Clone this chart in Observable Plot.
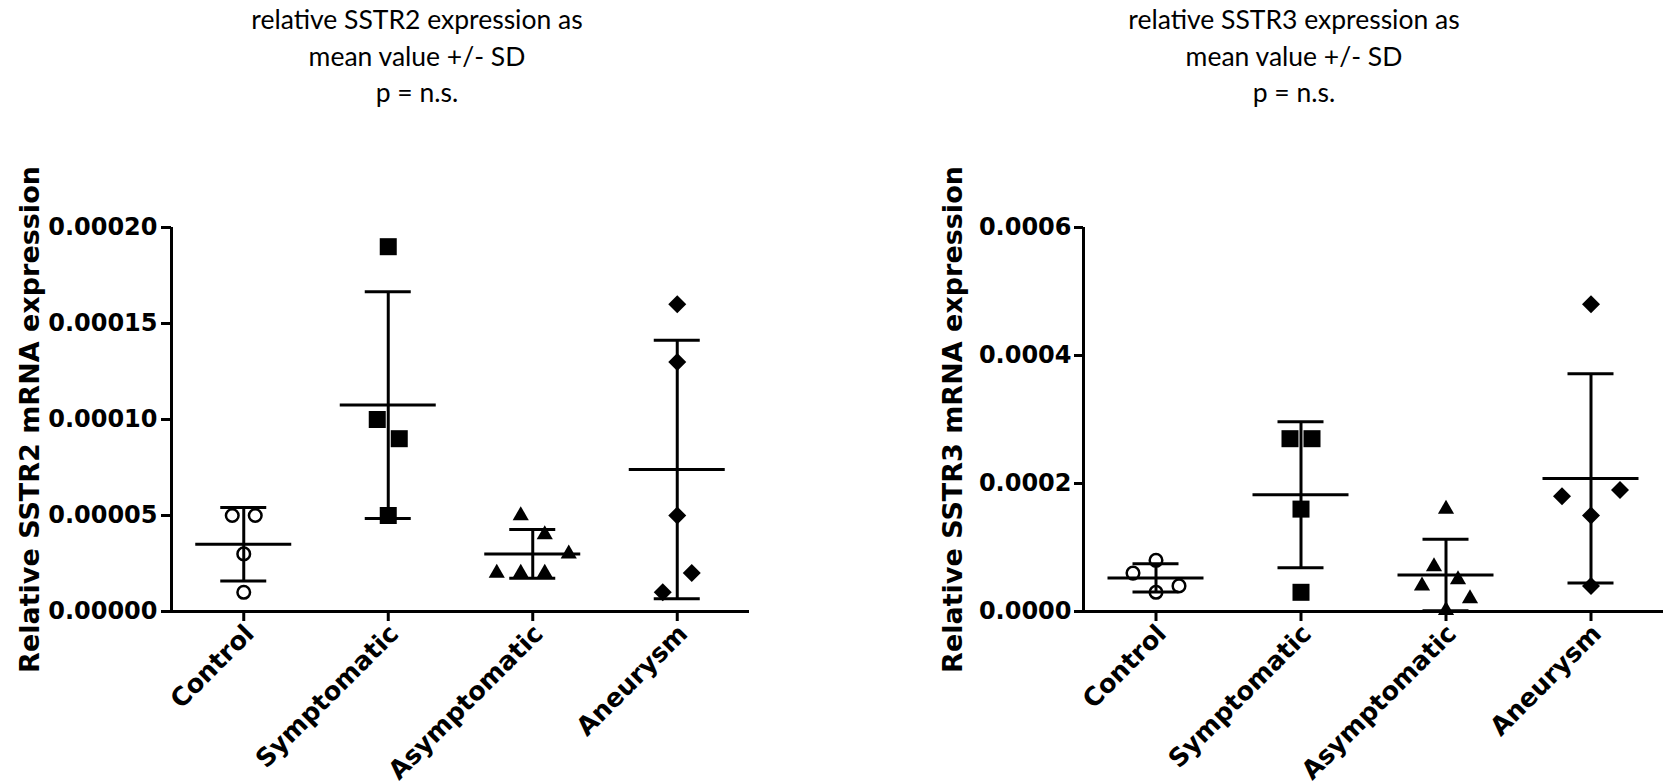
<!DOCTYPE html>
<html><head><meta charset="utf-8">
<script src="https://cdn.jsdelivr.net/npm/d3@7"></script>
<script src="https://cdn.jsdelivr.net/npm/@observablehq/plot@0.6"></script>
<style>
body{margin:0;background:#fff;}
#root{position:relative;width:1665px;height:784px;overflow:hidden;background:#fff;}
.title{position:absolute;top:1px;width:560px;text-align:center;font-family:Lato,"Open Sans",sans-serif;font-size:26.5px;line-height:36.5px;color:#000;}
.panel{position:absolute;top:120px;}
</style></head><body><div id="root"></div>
<script>
// ---- data ----
const categories = ["Control", "Symptomatic", "Asymptomatic", "Aneurysm"];

// SSTR2 panel
const sstr2Title = ["relative SSTR2 expression as", "mean value +/- SD", "p = n.s."];
const sstr2Label = "Relative SSTR2 mRNA expression";
const sstr2Control = [0.00005, 0.00005, 0.00003, 0.00001];
const sstr2Symptomatic = [0.00019, 0.00010, 0.00009, 0.00005];
const sstr2Asymptomatic = [0.00005, 0.00004, 0.00002, 0.00002, 0.00002, 0.00003];
const sstr2Aneurysm = [0.00016, 0.00013, 0.00005, 0.00001, 0.00002];
const sstr2Ticks = [0, 0.00005, 0.00010, 0.00015, 0.00020];

// SSTR3 panel
const sstr3Title = ["relative SSTR3 expression as", "mean value +/- SD", "p = n.s."];
const sstr3Label = "Relative SSTR3 mRNA expression";
const sstr3Control = [0.00008, 0.00006, 0.00003, 0.00004];
const sstr3Symptomatic = [0.00027, 0.00027, 0.00016, 0.00003];
const sstr3Asymptomatic = [0.00016, 0.00007, 0.00004, 0.000002, 0.00005, 0.00002];
const sstr3Aneurysm = [0.00048, 0.00018, 0.00015, 0.00019, 0.00004];
const sstr3Ticks = [0, 0.0002, 0.0004, 0.0006];

// ---- drawing ----
const FONT = "DejaVu Sans";
const markers = [
  {symbol: "circle", r: 6.3, open: true, spacing: 23},
  {symbol: "square", r: 9.6, open: false, spacing: 22},
  {symbol: "triangle", r: 6.0, open: false, spacing: 24},
  {symbol: "diamond2", r: 8.1, open: false, spacing: 29}
];
const H = 664, MT = 107, MB = 173;
const plotH = H - MT - MB;

// Prism-like scatter: points closer than ~30px vertically share a row and are spread side by side
function spread(values, yMax, spacing) {
  const pxPer = plotH / yMax;
  const idx = d3.range(values.length).sort((a, b) => values[a] - values[b] || a - b);
  const rows = []; let cur = null;
  for (const i of idx) {
    if (cur && (values[i] - values[cur[0]]) * pxPer <= 30) cur.push(i);
    else { cur = [i]; rows.push(cur); }
  }
  const off = new Array(values.length);
  for (const r of rows) {
    r.sort((a, b) => a - b);
    r.forEach((i, k) => off[i] = (k - (r.length - 1) / 2) * spacing);
  }
  return off;
}

function panel({groups, yMax, ticks, fmt, label, width, marginLeft, marginRight, labelDx, tickSize, tickPadding}) {
  const step = (width - marginLeft - marginRight) / categories.length;
  const marks = [];
  const stats = [];
  groups.forEach((vals, g) => {
    const mk = markers[g];
    const off = spread(vals, yMax, mk.spacing);
    const pts = vals.map((v, k) => ({v, x: g + off[k] / step}));
    marks.push(Plot.dot(pts, mk.open
      ? {x: "x", y: "v", symbol: mk.symbol, r: mk.r, stroke: "black", strokeWidth: 2.5, fill: "white"}
      : {x: "x", y: "v", symbol: mk.symbol, r: mk.r, fill: "black", stroke: "none"}));
    const m = d3.mean(vals), sd = d3.deviation(vals);
    stats.push({g, m, lo: m - sd, hi: m + sd});
  });
  const half = 48 / step, cap = 23 / step;
  const xt = d3.range(categories.length);
  marks.push(
    Plot.ruleX(stats, {x: "g", y1: "lo", y2: "hi", strokeWidth: 3}),
    Plot.ruleY(stats, {y: "m", x1: d => d.g - half, x2: d => d.g + half, strokeWidth: 3}),
    Plot.ruleY(stats, {y: "hi", x1: d => d.g - cap, x2: d => d.g + cap, strokeWidth: 3}),
    Plot.ruleY(stats, {y: "lo", x1: d => d.g - cap, x2: d => d.g + cap, strokeWidth: 3}),
    Plot.ruleY([0], {strokeWidth: 3.2}),
    Plot.ruleX([-0.5], {y1: 0, y2: yMax, strokeWidth: 3}),
    Plot.axisY({ticks, tickFormat: fmt, tickSize, tickPadding, strokeWidth: 3, fontSize: 24, fontWeight: "bold", fontFamily: FONT, label: null}),
    Plot.axisX({ticks: xt, tickFormat: () => "", tickSize: 10, strokeWidth: 3, label: null}),
    Plot.axisX({ticks: xt, tickFormat: i => categories[i], tickSize: 0, tickPadding: 18, dx: 6,
      tickRotate: -45, fontSize: 25.5, fontWeight: "bold", fontFamily: FONT, label: null}),
    Plot.text([label], {frameAnchor: "left", textAnchor: "middle", lineAnchor: "middle", rotate: -90, dx: labelDx,
      fontSize: 27, fontWeight: "bold", fontFamily: FONT, fill: "black"})
  );
  return Plot.plot({
    width, height: H, marginTop: MT, marginBottom: MB, marginLeft, marginRight,
    style: {background: "white", color: "black", fontFamily: FONT, overflow: "visible"},
    x: {type: "linear", domain: [-0.5, categories.length - 0.5], axis: null},
    y: {domain: [0, yMax], axis: null},
    marks
  });
}

function addTitle(lines, center) {
  const d = document.createElement("div");
  d.className = "title";
  d.style.left = (center - 280) + "px";
  d.innerHTML = lines.map(s => `<div>${s}</div>`).join("");
  document.getElementById("root").appendChild(d);
}

function addPanel(svg, left) {
  const w = document.createElement("div");
  w.className = "panel";
  w.style.left = left + "px";
  w.appendChild(svg);
  document.getElementById("root").appendChild(w);
}

addTitle(sstr2Title, 417);
addTitle(sstr3Title, 1294);

addPanel(panel({
  groups: [sstr2Control, sstr2Symptomatic, sstr2Asymptomatic, sstr2Aneurysm],
  yMax: 0.0002, ticks: sstr2Ticks, fmt: d3.format(".5f"), label: sstr2Label,
  width: 832, marginLeft: 171, marginRight: 83, labelDx: -141, tickSize: 10, tickPadding: 4
}), 0);

addPanel(panel({
  groups: [sstr3Control, sstr3Symptomatic, sstr3Asymptomatic, sstr3Aneurysm],
  yMax: 0.0006, ticks: sstr3Ticks, fmt: d3.format(".4f"), label: sstr3Label,
  width: 833, marginLeft: 251, marginRight: 2, labelDx: -130, tickSize: 9, tickPadding: 3
}), 832);
</script>
</body></html>
